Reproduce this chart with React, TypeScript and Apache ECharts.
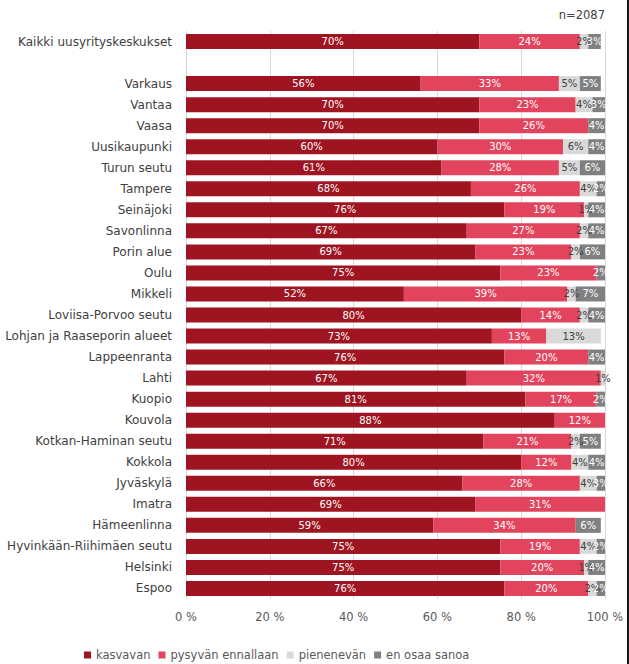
import React, { useEffect, useRef } from "react";
import * as echarts from "echarts";

const categories = [
  "Kaikki uusyrityskeskukset",
  "",
  "Varkaus",
  "Vantaa",
  "Vaasa",
  "Uusikaupunki",
  "Turun seutu",
  "Tampere",
  "Seinäjoki",
  "Savonlinna",
  "Porin alue",
  "Oulu",
  "Mikkeli",
  "Loviisa-Porvoo seutu",
  "Lohjan ja Raaseporin alueet",
  "Lappeenranta",
  "Lahti",
  "Kuopio",
  "Kouvola",
  "Kotkan-Haminan seutu",
  "Kokkola",
  "Jyväskylä",
  "Imatra",
  "Hämeenlinna",
  "Hyvinkään-Riihimäen seutu",
  "Helsinki",
  "Espoo",
];

const kasvavan = [70, null, 56, 70, 70, 60, 61, 68, 76, 67, 69, 75, 52, 80, 73, 76, 67, 81, 88, 71, 80, 66, 69, 59, 75, 75, 76];
const pysyvan = [24, null, 33, 23, 26, 30, 28, 26, 19, 27, 23, 23, 39, 14, 13, 20, 32, 17, 12, 21, 12, 28, 31, 34, 19, 20, 20];
const pienenevan = [2, null, 5, 4, 0, 6, 5, 4, 1, 2, 2, 0, 2, 2, 13, 0, 1, 0, 0, 2, 4, 4, 0, 0, 4, 1, 2];
const enOsaa = [3, null, 5, 3, 4, 4, 6, 2, 4, 4, 6, 2, 7, 4, 0, 4, 0, 2, 0, 5, 4, 3, 0, 6, 2, 4, 2];

const seriesNames = ["kasvavan", "pysyvän ennallaan", "pienenevän", "en osaa sanoa"];
const seriesColors = ["#9E1421", "#E2445E", "#D9D9D9", "#808080"];
const labelColors = ["#ffffff", "#ffffff", "#404040", "#ffffff"];
const xTicks = [0, 20, 40, 60, 80, 100];
const sampleNote = "n=2087";

const FONT = "DejaVu Sans";

export default function App() {
  const ref = useRef<HTMLDivElement>(null);

  useEffect(() => {
    if (!ref.current) return;
    const chart = echarts.init(ref.current, undefined, { renderer: "svg" });
    const allData = [kasvavan, pysyvan, pienenevan, enOsaa];
    chart.setOption({
      animation: false,
      textStyle: { fontFamily: FONT },
      grid: { left: 186, right: 24, top: 31, bottom: 65, containLabel: false },
      legend: {
        left: 84,
        top: 649,
        padding: 0,
        itemWidth: 7,
        itemHeight: 7,
        itemGap: 8,
        icon: "rect",
        textStyle: { fontSize: 11.5, color: "#595959", fontFamily: FONT },
        data: seriesNames,
      },
      graphic: [
        {
          type: "text",
          right: 24,
          top: 9,
          style: { text: sampleNote, fontSize: 11.5, fill: "#404040", fontFamily: FONT },
        },
        {
          type: "rect",
          left: 627,
          top: 0,
          shape: { width: 2, height: 664 },
          style: { fill: "#1a1a1a" },
        },
      ],
      xAxis: {
        type: "value",
        min: xTicks[0],
        max: xTicks[xTicks.length - 1],
        interval: 20,
        axisLine: { show: false },
        axisTick: { show: false },
        splitLine: { show: true, lineStyle: { color: "#D9D9D9", width: 1 } },
        axisLabel: {
          color: "#595959",
          fontSize: 11.5,
          margin: 12,
          formatter: (v: number) => `${v} %`,
        },
      },
      yAxis: {
        type: "category",
        data: categories,
        inverse: true,
        axisLine: { show: false },
        axisTick: { show: false },
        axisLabel: { color: "#404040", fontSize: 12, margin: 14 },
      },
      series: seriesNames.map((name, i) => ({
        name,
        type: "bar",
        stack: "total",
        barWidth: 15,
        data: allData[i],
        itemStyle: { color: seriesColors[i] },
        label: {
          show: true,
          position: "inside",
          color: labelColors[i],
          fontSize: 10,
          fontFamily: FONT,
          formatter: (p: any) => (p.value ? `${p.value}%` : ""),
        },
      })),
    });
    return () => chart.dispose();
  }, []);

  return (
    <div
      ref={ref}
      style={{ position: "absolute", left: 0, top: 0, width: 629, height: 664, background: "#fff" }}
    />
  );
}
